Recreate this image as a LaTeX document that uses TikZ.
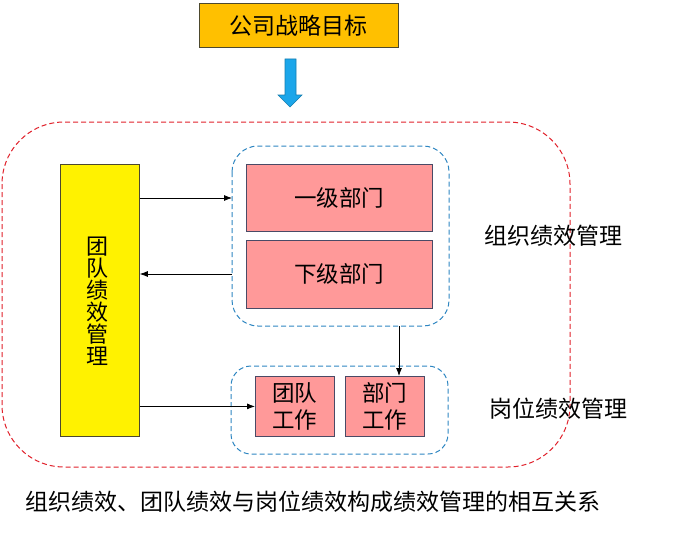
\documentclass[tikz,border=0pt]{standalone}
\usepackage{fontspec}
\setmainfont{Noto Sans CJK SC}
\usetikzlibrary{arrows.meta}

\definecolor{goalorange}{HTML}{FFC000}
\definecolor{deptpink}{HTML}{FF9999}
\definecolor{framered}{HTML}{E0202A}
\definecolor{frameblue}{HTML}{2E86C1}
\definecolor{arrowblue}{HTML}{1BA6EA}
\definecolor{boxedge}{HTML}{4A4A66}

\begin{document}
\begin{tikzpicture}[x=1pt,y=-1pt,
        box/.style={draw=boxedge, line width=0.8pt, inner sep=0pt, anchor=north west},
        pinkbox/.style={box, fill=deptpink, font=\fontsize{22.5}{27}\selectfont, align=center},
        group/.style={draw=frameblue, line width=1pt, dash pattern=on 5pt off 3pt},
        label/.style={font=\fontsize{23}{27}\selectfont},
        link/.style={-{Latex[length=8pt,width=6pt]}, line width=0.8pt}
    ]
    \useasboundingbox (0,0) rectangle (693,535);
    % goal at the top
    \node[box, fill=goalorange, draw=black!60!olive, minimum width=199pt, minimum height=44pt,
        font=\fontsize{23}{27}\selectfont] (goal) at (199,3) {公司战略目标};
    \draw[fill=arrowblue, draw=arrowblue!75!black, line width=0.6pt]
        (285,59) -- (296,59) -- (296,95) -- (302,95) -- (290,107) -- (278,95) -- (285,95) -- cycle;
    % outer frame
    \draw[draw=framered, line width=1pt, dash pattern=on 5pt off 3pt, rounded corners=62pt]
        (2,122) rectangle (570,467);
    % team performance
    \node[box, fill=yellow, draw=black!60!olive, minimum width=79pt, minimum height=272pt] (team) at (60,164) {};
    \node[font=\fontsize{22}{22}\selectfont, align=center, inner sep=0pt] (teamtxt) at (97,301)
        {团\\队\\绩\\效\\管\\理};
    % organisation performance
    \draw[group, rounded corners=26pt] (232,146) rectangle (449,326);
    \coordinate (orgleft) at (232,198);
    \coordinate (orgleftb) at (232,274);
    \coordinate (orgbottom) at (399,326);
    \node[pinkbox, minimum width=186pt, minimum height=67pt] (dept1) at (246,164) {一级部门};
    \node[pinkbox, minimum width=186pt, minimum height=68pt] (dept2) at (246,240) {下级部门};
    \node[label, anchor=west] (orglabel) at (481,236) {组织绩效管理};
    % post performance
    \draw[group, rounded corners=20pt] (231,366) rectangle (448,454);
    \node[pinkbox, minimum width=79pt, minimum height=60pt] (teamwork) at (255,376) {团队\\工作};
    \node[pinkbox, minimum width=79pt, minimum height=60pt] (deptwork) at (345,376) {部门\\工作};
    \node[label, anchor=west] (postlabel) at (486,409) {岗位绩效管理};
    % links
    \draw[link] (team.east |- orgleft) -- (orgleft);
    \draw[link] (orgleftb) -- (team.east |- orgleftb);
    \draw[link] (orgbottom) -- (orgbottom |- deptwork.north);
    \draw[link] (team.east |- teamwork.west) -- (teamwork.west);
    % caption
    \node[label, anchor=west] (caption) at (22,502) {组织绩效、团队绩效与岗位绩效构成绩效管理的相互关系};
\end{tikzpicture}
\end{document}
